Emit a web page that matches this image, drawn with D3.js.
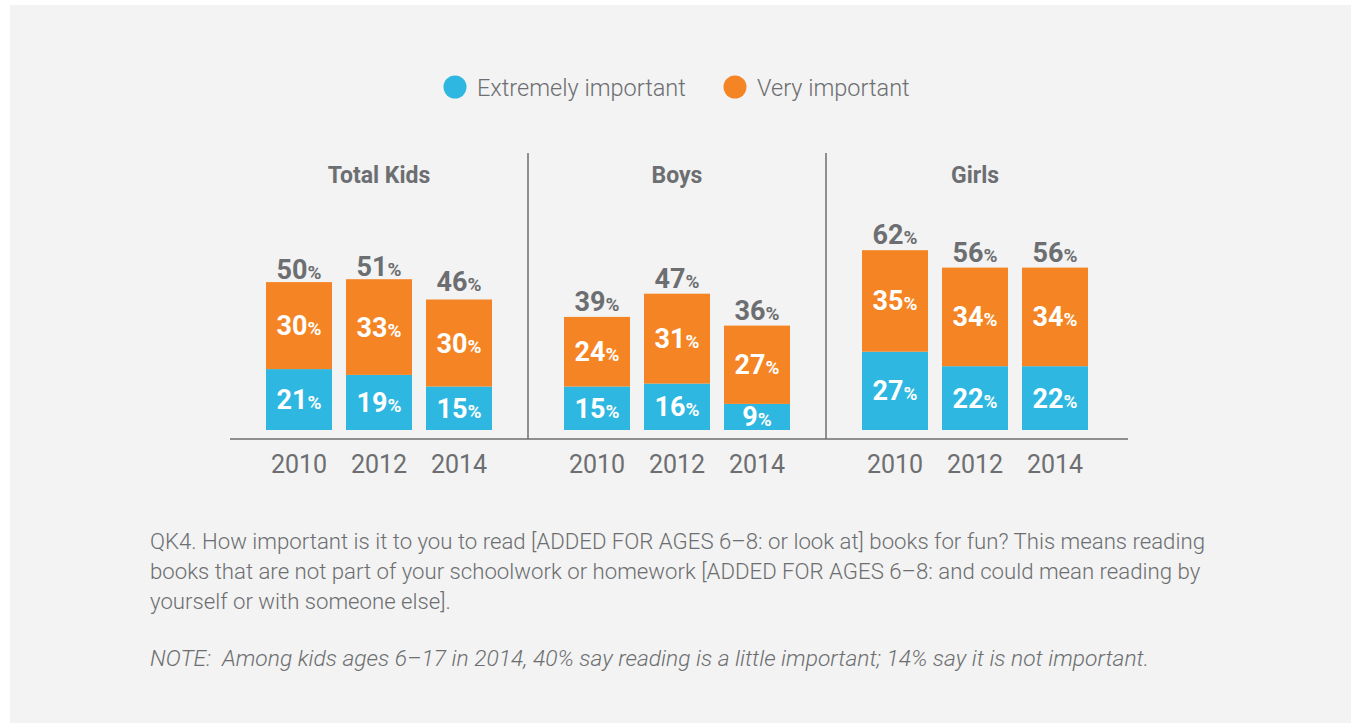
<!DOCTYPE html>
<html>
<head>
<meta charset="utf-8">
<script src="https://cdn.jsdelivr.net/npm/d3@7"></script>
<style>
  body { margin: 0; background: #fff; }
  svg { display: block; }
  text { font-family: Roboto, "Open Sans", sans-serif; white-space: pre; }
</style>
</head>
<body>
<div id="chart"></div>
<script>
// chart data
const groups = ["Total Kids", "Boys", "Girls"];
const years = ["2010", "2012", "2014"];
const series = ["Extremely important", "Very important"];
const extremely = [[21, 19, 15], [15, 16, 9], [27, 22, 22]];
const very = [[30, 33, 30], [24, 31, 27], [35, 34, 34]];
const totals = [[50, 51, 46], [39, 47, 36], [62, 56, 56]];
const footLines = [
  "QK4. How important is it to you to read [ADDED FOR AGES 6–8: or look at] books for fun? This means reading",
  "books that are not part of your schoolwork or homework [ADDED FOR AGES 6–8: and could mean reading by",
  "yourself or with someone else]."
];
const noteText = "NOTE:  Among kids ages 6–17 in 2014, 40% say reading is a little important; 14% say it is not important.";

const W = 1351, H = 723;
const blue = "#2db7e1", orange = "#f58424", grey = "#6d6e71";

const svg = d3.select("#chart").append("svg")
  .attr("width", W).attr("height", H);

// grey panel
svg.append("rect")
  .attr("x", 10).attr("y", 5)
  .attr("width", W - 10).attr("height", H - 5)
  .attr("fill", "#f2f3f2");

// scales
const x0 = d3.scaleBand().domain(groups).range([230, 1124]);
const x1 = d3.scaleBand().domain(years).range([0, x0.bandwidth()])
  .paddingInner(0.175).paddingOuter(0.45);
const y = d3.scaleLinear().domain([0, 100]).range([430, 140]);

// legend
const legend = svg.append("g");
const legendX = [455, 735];
series.forEach((s, i) => {
  legend.append("circle")
    .attr("cx", legendX[i]).attr("cy", 87).attr("r", 11.5)
    .attr("fill", i === 0 ? blue : orange);
  legend.append("text")
    .attr("x", legendX[i] + 22).attr("y", 96)
    .attr("fill", grey).attr("font-size", 23.5).attr("font-weight", 300)
    .text(s);
});

// divider lines and baseline
svg.append("line")
  .attr("x1", 230).attr("x2", 1128).attr("y1", 439).attr("y2", 439)
  .attr("stroke", grey).attr("stroke-width", 1.5);
groups.slice(1).forEach(g => {
  svg.append("line")
    .attr("x1", x0(g)).attr("x2", x0(g))
    .attr("y1", 153).attr("y2", 439)
    .attr("stroke", grey).attr("stroke-width", 1.5);
});

function pctLabel(sel, value, size, color) {
  sel.attr("fill", color).attr("font-weight", 700).attr("text-anchor", "middle");
  sel.append("tspan").attr("font-size", size).text(value);
  sel.append("tspan").attr("font-size", size * 0.7).text("%");
}

groups.forEach((g, gi) => {
  const gEl = svg.append("g").attr("transform", `translate(${x0(g)},0)`);

  gEl.append("text")
    .attr("x", x0.bandwidth() / 2).attr("y", 183)
    .attr("text-anchor", "middle")
    .attr("fill", grey).attr("font-size", 23).attr("font-weight", 700)
    .text(g);

  years.forEach((yr, yi) => {
    const bx = x1(yr), bw = x1.bandwidth();
    const e = extremely[gi][yi], v = very[gi][yi], t = totals[gi][yi];

    // blue segment
    gEl.append("rect")
      .attr("x", bx).attr("width", bw)
      .attr("y", y(e)).attr("height", y(0) - y(e))
      .attr("fill", blue);
    // orange segment
    gEl.append("rect")
      .attr("x", bx).attr("width", bw)
      .attr("y", y(e + v)).attr("height", y(e) - y(e + v))
      .attr("fill", orange);

    const cx = bx + bw / 2;
    gEl.append("text")
      .attr("x", cx).attr("y", (y(0) + y(e)) / 2 + 9.5)
      .call(pctLabel, e, 27, "#fff");
    gEl.append("text")
      .attr("x", cx).attr("y", (y(e) + y(e + v)) / 2 + 9.5)
      .call(pctLabel, v, 27, "#fff");
    gEl.append("text")
      .attr("x", cx).attr("y", y(t) - 6)
      .call(pctLabel, t, 27, grey);

    gEl.append("text")
      .attr("x", cx).attr("y", 473)
      .attr("text-anchor", "middle")
      .attr("fill", grey).attr("font-size", 25)
      .text(yr);
  });
});

// footnote
footLines.forEach((l, i) => {
  svg.append("text")
    .attr("x", 150).attr("y", 549 + i * 30)
    .attr("fill", grey).attr("font-size", 22.2).attr("font-weight", 300)
    .text(l);
});
svg.append("text")
  .attr("x", 150).attr("y", 666)
  .attr("fill", grey).attr("font-size", 22.8).attr("font-weight", 300)
  .attr("font-style", "italic")
  .text(noteText);
</script>
</body>
</html>
